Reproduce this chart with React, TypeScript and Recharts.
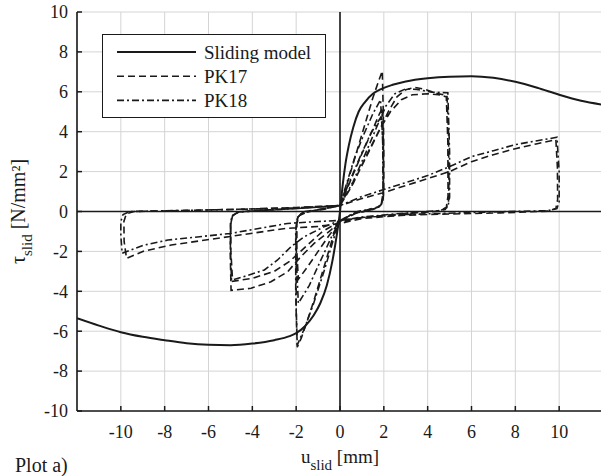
import React from 'react';
import { LineChart, Line, XAxis, YAxis, CartesianGrid, ReferenceLine, Legend } from 'recharts';

type Pt = [number, number];

const xTicks = [-10, -8, -6, -4, -2, 0, 2, 4, 6, 8, 10];
const yTicks = [-10, -8, -6, -4, -2, 0, 2, 4, 6, 8, 10];

const seriesNames = ['Sliding model', 'PK17', 'PK18'];

const slidingModel: Pt[] = [
  [-12, -5.35], [-11, -5.72], [-10, -6.05], [-9, -6.28], [-8, -6.45], [-7, -6.6], [-6, -6.68], [-5, -6.7],
  [-4, -6.62], [-3, -6.45], [-2.3, -6.25], [-2, -6.1], [-1.6, -5.75], [-1.2, -5.2], [-0.9, -4.6], [-0.6, -3.7],
  [-0.35, -2.5], [-0.15, -1.2], [0, 0], [0.12, 1.3], [0.25, 2.4], [0.4, 3.3], [0.6, 4.2], [0.85, 5.0],
  [1.15, 5.5], [1.5, 5.9], [1.9, 6.15], [2.4, 6.35], [3, 6.52], [4, 6.68], [5, 6.76], [6, 6.78], [7, 6.7],
  [8, 6.5], [9, 6.2], [10, 5.85], [11, 5.55], [12, 5.35],
];

const pk17Amp2First: Pt[] = [
  [0, 0.3], [0.3, 1.3], [0.6, 2.4], [0.9, 3.5], [1.2, 4.6], [1.5, 5.7], [1.75, 6.5], [1.93, 7.05],
  [1.97, 5.2], [2.0, 3.0], [2.0, 1.0], [1.95, 0.45], [1.8, 0.25], [1.3, 0.1], [0.6, -0.1], [0, -0.5],
  [-0.3, -1.2], [-0.6, -2.3], [-0.9, -3.4], [-1.2, -4.5], [-1.5, -5.5], [-1.75, -6.3], [-1.95, -6.8],
  [-2.0, -5.0], [-2.0, -2.5], [-2.0, -0.8], [-1.93, -0.3], [-1.75, -0.1], [-1.0, 0.1], [0, 0.3],
];
const pk17Amp2Second: Pt[] = [
  [0, 0.3], [0.5, 1.6], [1.0, 2.9], [1.45, 4.0], [1.8, 4.9], [1.95, 5.2], [1.98, 3.0], [1.98, 0.8],
  [1.88, 0.3], [1.5, 0.1], [0.7, -0.1], [0, -0.5], [-0.5, -1.2], [-1.0, -2.0], [-1.5, -2.8], [-1.9, -3.4],
  [-1.97, -2.0], [-1.97, -0.6], [-1.85, -0.2], [-1.5, -0.02], [-0.7, 0.12], [0, 0.3],
];
const pk17Amp5First: Pt[] = [
  [0, 0.3], [0.5, 1.2], [1.0, 2.3], [1.5, 3.4], [1.9, 4.3], [2.2, 5.0], [2.6, 5.75], [3.0, 6.1], [3.4, 6.22],
  [3.9, 6.12], [4.4, 5.92], [4.88, 5.82], [4.95, 4.0], [4.97, 1.5], [4.95, 0.4], [4.8, 0.1], [4.3, 0.0],
  [2.5, -0.15], [1, -0.3], [0, -0.5], [-0.42, -0.93], [-1.18, -1.6], [-1.79, -2.27], [-2.39, -3.02],
  [-3.15, -3.52], [-4.06, -3.85], [-4.97, -3.95], [-5.0, -2.5], [-5.0, -0.8], [-4.93, -0.25], [-4.7, -0.05],
  [-4.0, 0.05], [-2, 0.15], [0, 0.3],
];
const pk17Amp5Second: Pt[] = [
  [0, 0.3], [0.6, 1.4], [1.2, 2.8], [1.8, 4.1], [2.3, 5.0], [2.8, 5.6], [3.3, 5.85], [4.0, 5.9], [4.5, 5.85],
  [4.85, 5.75], [4.92, 3.5], [4.93, 0.8], [4.85, 0.2], [4.5, 0.02], [2.5, -0.15], [1, -0.3], [0, -0.5],
  [-0.8, -1.0], [-1.6, -1.8], [-2.3, -2.5], [-3.0, -3.0], [-4.0, -3.35], [-4.9, -3.5], [-4.98, -2.0],
  [-4.98, -0.6], [-4.9, -0.2], [-4.6, -0.02], [-2, 0.15], [0, 0.3],
];
const pk17Amp10: Pt[] = [
  [0, 0.3], [1, 0.65], [2, 0.95], [3, 1.3], [4, 1.65], [5, 2.0], [6, 2.5], [7, 2.85], [8, 3.15], [9, 3.4],
  [9.85, 3.6], [9.92, 2.2], [9.93, 0.6], [9.85, 0.15], [9.5, 0.02], [7.3, -0.07], [4, -0.15], [2.76, -0.2],
  [1, -0.35], [0, -0.6], [-1, -0.75], [-2.5, -0.85], [-5, -1.25], [-7.7, -1.68], [-9, -2.0], [-9.74, -2.35],
  [-9.85, -1.5], [-9.86, -0.5], [-9.75, -0.12], [-9.4, 0.0], [-5, 0.1], [-2, 0.2], [0, 0.3],
];

const pk18Amp2First: Pt[] = [
  [0, 0.3], [0.3, 1.4], [0.7, 2.8], [1.1, 3.9], [1.5, 4.9], [1.85, 5.6], [1.95, 3.5], [1.96, 0.9],
  [1.88, 0.35], [1.6, 0.15], [0.8, 0.0], [0, -0.45], [-0.3, -1.4], [-0.7, -2.9], [-1.2, -4.6], [-1.6, -5.8],
  [-1.95, -6.7], [-2.02, -4.0], [-2.02, -1.0], [-1.95, -0.3], [-1.7, -0.05], [-0.9, 0.1], [0, 0.3],
];
const pk18Amp2Second: Pt[] = [
  [0, 0.3], [0.4, 1.4], [0.9, 2.7], [1.4, 3.9], [1.9, 4.8], [1.97, 2.8], [1.97, 0.7], [1.85, 0.25],
  [1.4, 0.08], [0.6, -0.1], [0, -0.45], [-0.4, -1.3], [-0.9, -2.5], [-1.4, -3.7], [-1.9, -4.6],
  [-1.99, -2.5], [-1.99, -0.7], [-1.9, -0.2], [-1.6, 0.0], [-0.8, 0.12], [0, 0.3],
];
const pk18Amp5: Pt[] = [
  [0, 0.3], [0.6, 1.5], [1.2, 3.0], [1.7, 4.3], [2.1, 5.3], [2.5, 5.9], [3.0, 6.15], [3.5, 6.12], [4.2, 5.98],
  [4.92, 5.95], [5.0, 3.0], [5.0, 0.7], [4.92, 0.22], [4.6, 0.05], [2.5, -0.12], [1, -0.28], [0, -0.45],
  [-0.73, -0.77], [-1.64, -1.27], [-2.24, -1.77], [-2.85, -2.43], [-3.45, -2.93], [-4.2, -3.2], [-4.95, -3.45],
  [-5.0, -2.0], [-5.0, -0.6], [-4.92, -0.2], [-4.6, -0.02], [-2.5, 0.12], [0, 0.3],
];
const pk18Amp10: Pt[] = [
  [0, 0.3], [1, 0.75], [2, 1.1], [3, 1.45], [4, 1.8], [5, 2.25], [6, 2.75], [7, 3.05], [8, 3.35], [9, 3.55],
  [9.9, 3.72], [10.0, 2.0], [10.0, 0.5], [9.9, 0.15], [9.5, 0.04], [7, -0.02], [3, -0.15], [1, -0.3],
  [0, -0.45], [-1, -0.5], [-2.4, -0.6], [-5, -1.1], [-7.85, -1.43], [-9, -1.7], [-9.94, -2.1], [-10.0, -1.2],
  [-10.0, -0.5], [-9.9, -0.15], [-9.6, 0.0], [-5, 0.1], [-2, 0.18], [0, 0.3],
];

const toRows = (...parts: Pt[][]) => parts.flat().map(([x, y]) => ({ x, y }));

const slidingRows = toRows(slidingModel);
const pk17Rows = toRows(pk17Amp2First, pk17Amp2Second, pk17Amp5First, pk17Amp5Second, pk17Amp10);
const pk18Rows = toRows(pk18Amp2First, pk18Amp2Second, pk18Amp5, pk18Amp10);

const FONT = '"Liberation Serif", "Times New Roman", serif';
const INK = '#1a1a1a';
const DASH = '7 4';
const DASHDOT = '7 3 2 3';
const TICK_LEN = 5;
const X_GAP = 14;
const Y_GAP = 9;

const BottomTick = (p: any) => (
  <g>
    <line x1={p.x} x2={p.x} y1={p.y - X_GAP} y2={p.y - X_GAP - TICK_LEN} stroke={INK} strokeWidth={1.5} />
    <text x={p.x} y={p.y} dy="0.71em" textAnchor="middle" fontSize={18} fontFamily={FONT} fill={INK}>
      {p.payload.value}
    </text>
  </g>
);
const LeftTick = (p: any) => (
  <g>
    <line x1={p.x + Y_GAP} x2={p.x + Y_GAP + TICK_LEN} y1={p.y} y2={p.y} stroke={INK} strokeWidth={1.5} />
    <text x={p.x} y={p.y} dy="0.355em" textAnchor="end" fontSize={18} fontFamily={FONT} fill={INK}>
      {p.payload.value}
    </text>
  </g>
);
const TopTick = (p: any) => (
  <line x1={p.x} x2={p.x} y1={p.y} y2={p.y + TICK_LEN} stroke={INK} strokeWidth={1.5} />
);
const RightTick = (p: any) => (
  <line x1={p.x} x2={p.x - TICK_LEN} y1={p.y} y2={p.y} stroke={INK} strokeWidth={1.5} />
);

const XTitle = (props: any) => {
  const { x, y, width } = props.viewBox;
  return (
    <g fontFamily={FONT} fill={INK}>
      <text x={x + width / 2} y={y + 52} textAnchor="middle" fontSize={19}>
        u<tspan fontSize={15} dy={7}>slid</tspan><tspan dy={-7}> [mm]</tspan>
      </text>
      <text x={x - 62} y={y + 61} fontSize={20}>Plot a)</text>
    </g>
  );
};

const YTitle = (props: any) => {
  const { x, y, height } = props.viewBox;
  const cx = x + 8;
  const cy = y + height / 2;
  return (
    <text x={cx} y={cy} transform={`rotate(-90, ${cx}, ${cy})`} textAnchor="middle" fontSize={20} fontFamily={FONT} fill={INK}>
      τ<tspan fontSize={15} dy={7}>slid</tspan><tspan dy={-7}> [N/mm²]</tspan>
    </text>
  );
};

const LegendBox = () => {
  const rows = [
    { name: seriesNames[0], dash: undefined as string | undefined },
    { name: seriesNames[1], dash: DASH },
    { name: seriesNames[2], dash: DASHDOT },
  ];
  return (
    <div style={{ width: 224, height: 84, boxSizing: 'border-box', border: `1.6px solid ${INK}`, background: '#fff' }}>
      <svg width={221} height={81} style={{ display: 'block' }}>
        {rows.map((r, i) => {
          const yy = 17 + i * 24.2;
          return (
            <g key={r.name}>
              <line x1={14} x2={93} y1={yy} y2={yy} stroke={INK} strokeWidth={i === 0 ? 2 : 1.6} strokeDasharray={r.dash} />
              <text x={101} y={yy + 6.5} fontSize={19} fontFamily={FONT} fill={INK}>{r.name}</text>
            </g>
          );
        })}
      </svg>
    </div>
  );
};

export default function App() {
  return (
    <div style={{ position: 'absolute', left: 0, top: 0, background: '#fff' }}>
      <LineChart width={601} height={476} margin={{ top: 12, right: -2, bottom: 35, left: 17 }}>
        <CartesianGrid stroke="#d4d4d4" strokeWidth={1} />
        <XAxis
          dataKey="x" type="number" domain={[-12, 12]} ticks={xTicks} allowDataOverflow
          height={30} tickSize={0} tickMargin={X_GAP} tick={BottomTick} interval={0}
          axisLine={{ stroke: INK, strokeWidth: 1.6 }} tickLine={false}
          label={{ content: XTitle }}
        />
        <XAxis
          xAxisId="top" orientation="top" dataKey="x" type="number" domain={[-12, 12]} ticks={xTicks}
          allowDataOverflow height={0} tickSize={0} tickMargin={0} tick={TopTick} interval={0}
          axisLine={{ stroke: INK, strokeWidth: 1.6 }} tickLine={false}
        />
        <YAxis
          type="number" domain={[-10, 10]} ticks={yTicks} allowDataOverflow width={60}
          tickSize={0} tickMargin={Y_GAP} tick={LeftTick} interval={0}
          axisLine={{ stroke: INK, strokeWidth: 1.6 }} tickLine={false}
          label={{ content: YTitle }}
        />
        <YAxis
          yAxisId="right" orientation="right" type="number" domain={[-10, 10]} ticks={yTicks} allowDataOverflow
          width={0} tickSize={0} tickMargin={0} tick={RightTick} interval={0}
          axisLine={{ stroke: INK, strokeWidth: 1.6 }} tickLine={false}
        />
        <ReferenceLine x={0} stroke={INK} strokeWidth={1.6} />
        <ReferenceLine y={0} stroke={INK} strokeWidth={1.6} />
        <Line data={pk18Rows} dataKey="y" name={seriesNames[2]} type="linear" dot={false} stroke={INK}
          strokeWidth={1.6} strokeDasharray={DASHDOT} isAnimationActive={false} />
        <Line data={pk17Rows} dataKey="y" name={seriesNames[1]} type="linear" dot={false} stroke={INK}
          strokeWidth={1.6} strokeDasharray={DASH} isAnimationActive={false} />
        <Line data={slidingRows} dataKey="y" name={seriesNames[0]} type="monotone" dot={false} stroke={INK}
          strokeWidth={2} isAnimationActive={false} />
        <Legend
          layout="horizontal" verticalAlign="middle" align="center"
          wrapperStyle={{ position: 'absolute', left: 102, top: 34, width: 224, height: 84 }}
          content={LegendBox}
        />
      </LineChart>
    </div>
  );
}
